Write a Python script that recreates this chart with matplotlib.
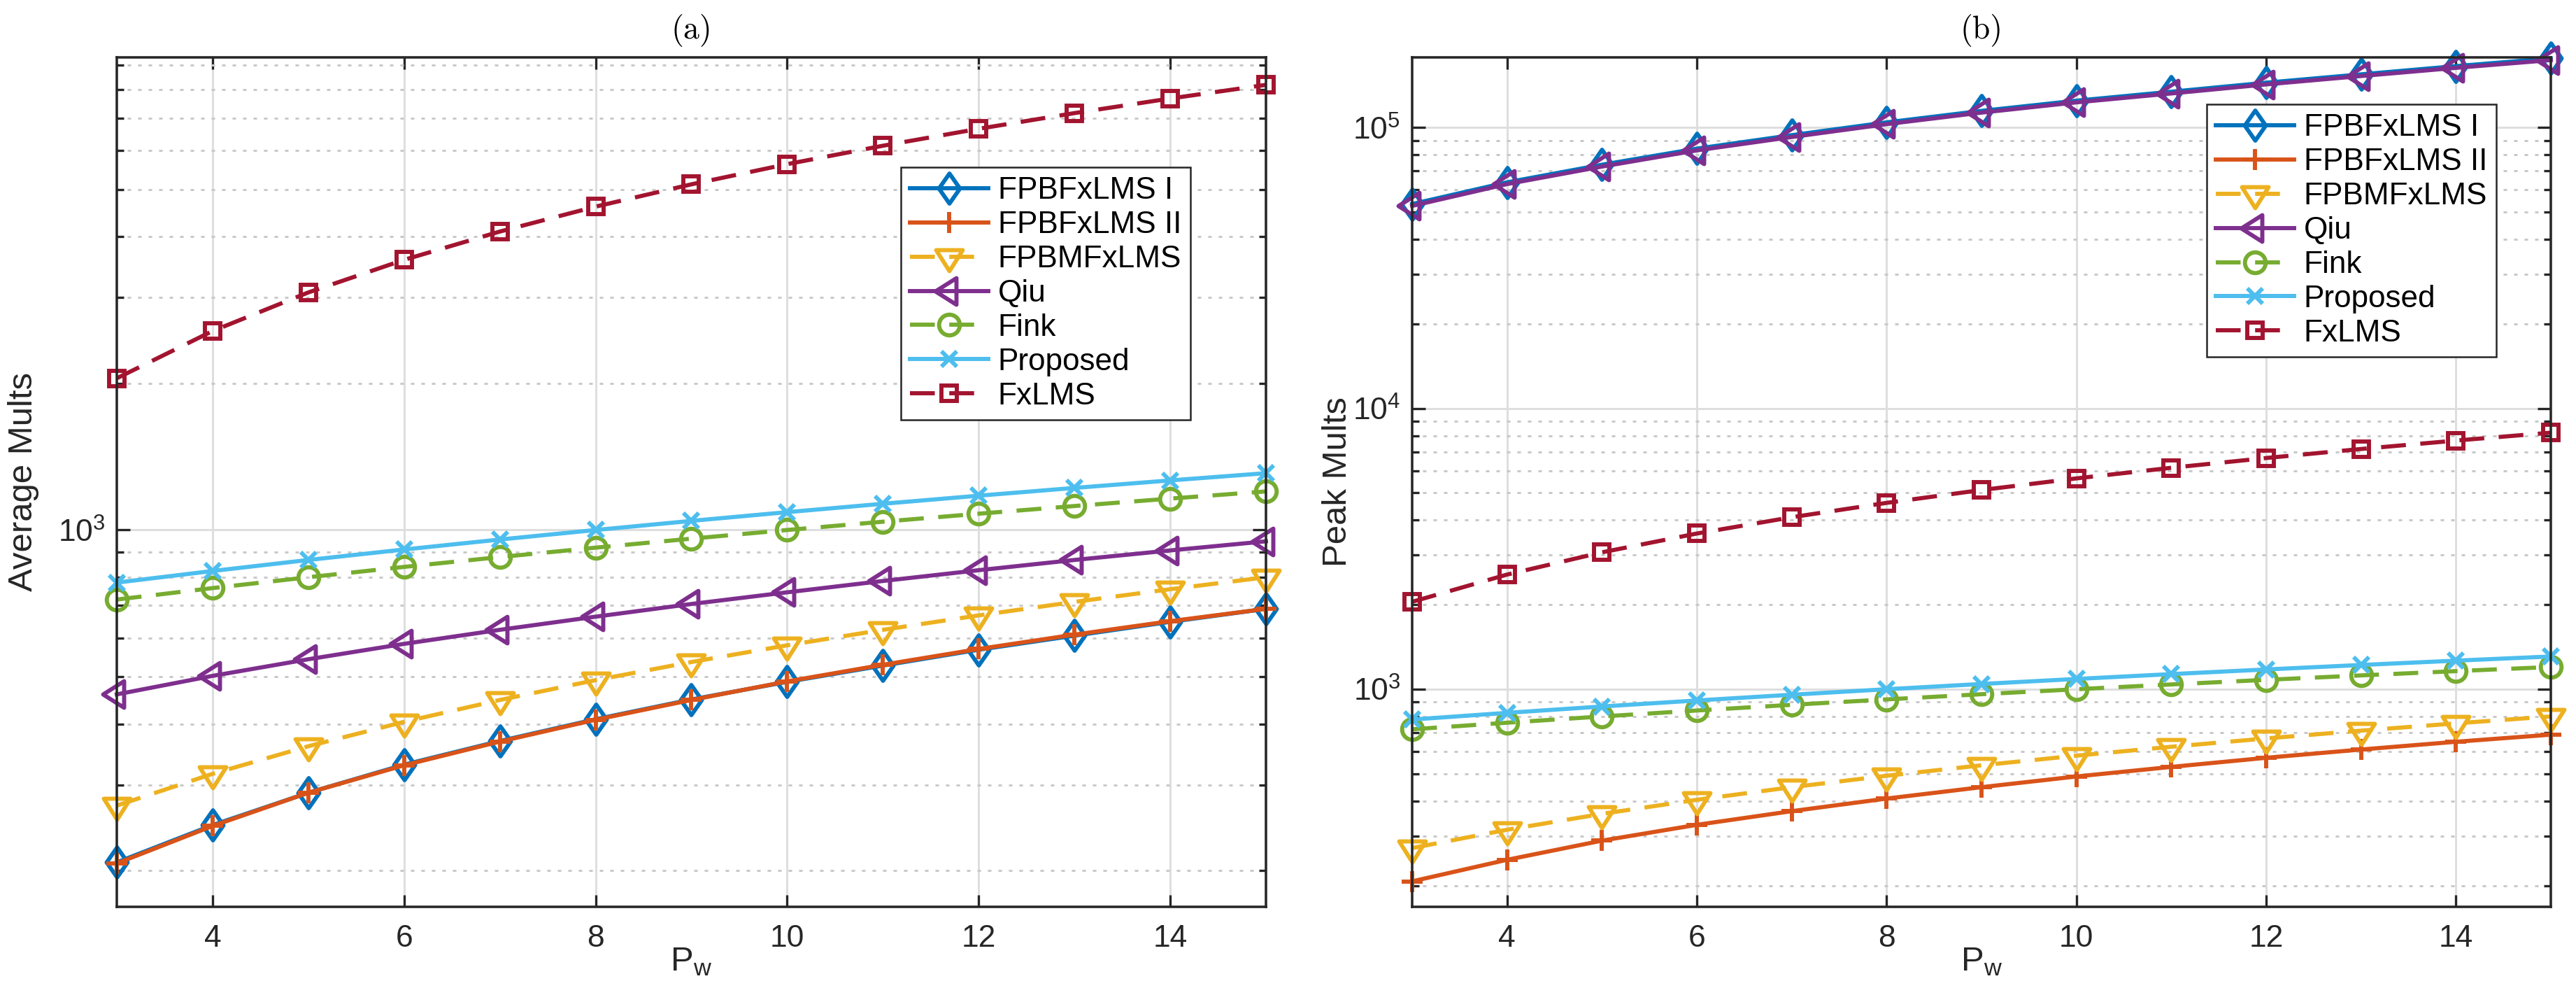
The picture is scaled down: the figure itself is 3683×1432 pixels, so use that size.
import matplotlib
matplotlib.use('Agg')
import matplotlib.pyplot as plt
import numpy as np
from matplotlib.path import Path
from matplotlib.ticker import LogLocator, NullFormatter, FuncFormatter, FixedLocator

# data
pw = [3, 4, 5, 6, 7, 8, 9, 10, 11, 12, 13, 14, 15]

fpbfxlms_1_avg = [208, 248, 289, 330, 369, 409, 449, 488, 527, 568, 607, 648, 689]
fpbfxlms_2 = [207, 247, 289, 329, 368, 408, 448, 489, 529, 570, 610, 650, 689]
fpbmfxlms = [272, 316, 360, 404, 448, 492, 536, 580, 624, 668, 712, 756, 800]
qiu_avg = [460, 502, 543, 584, 624, 664, 705, 745, 786, 827, 868, 908, 948]
fink = [720, 760, 800, 840, 880, 920, 960, 1000, 1040, 1080, 1120, 1160, 1200]
proposed = [780, 824, 868, 912, 956, 1000, 1044, 1088, 1132, 1176, 1220, 1264, 1308]
fxlms = [2048, 2560, 3072, 3584, 4096, 4608, 5120, 5632, 6144, 6656, 7168, 7680, 8192]

fpbfxlms_1_peak = [53400, 63800, 73700, 84100, 93900, 104300, 114600, 124600,
                   134100, 144400, 154600, 165400, 176200]
qiu_peak = [52600, 62900, 72600, 82900, 92500, 102800, 113000, 122900,
            132200, 142400, 152500, 163100, 173800]

labels = ['FPBFxLMS I', 'FPBFxLMS II', 'FPBMFxLMS', 'Qiu', 'Fink', 'Proposed', 'FxLMS']
colors = ['#0072BD', '#D95319', '#EDB120', '#7E2F8E', '#77AC30', '#4DBEEE', '#A2142F']

plt.rcParams.update({
    'font.family': ['Liberation Sans', 'DejaVu Sans'],
    'mathtext.fontset': 'custom',
    'mathtext.rm': 'Liberation Sans',
    'mathtext.it': 'Liberation Sans:italic',
    'mathtext.bf': 'Liberation Sans:bold',
    'mathtext.default': 'regular',
})

# MATLAB-like markers
diamond = Path([(0, 1), (0.7, 0), (0, -1), (-0.7, 0), (0, 1)],
               [Path.MOVETO, Path.LINETO, Path.LINETO, Path.LINETO, Path.CLOSEPOLY])
tri_down = Path([(-19, 10), (19, 10), (0, -20), (-19, 10)],
                [Path.MOVETO, Path.LINETO, Path.LINETO, Path.CLOSEPOLY])
tri_left = Path([(-20, 0), (10, 19), (10, -19), (-20, 0)],
                [Path.MOVETO, Path.LINETO, Path.LINETO, Path.CLOSEPOLY])

LW = 1.42
DASH = (0, (6.0, 3.5))
styles = [
    dict(marker=diamond, ms=10.3, ls='-'),
    dict(marker='+', ms=7.4, ls='-'),
    dict(marker=tri_down, ms=9.6, ls=DASH),
    dict(marker=tri_left, ms=9.6, ls='-'),
    dict(marker='o', ms=7.1, ls=DASH),
    dict(marker='x', ms=5.4, ls='-'),
    dict(marker='s', ms=5.4, ls=DASH),
]
DARK = '#262626'


def draw_panel(ax, series, ylim, ylabel, title, ylab_x, leg_anchor):
    for vals, lab, col, st in zip(series, labels, colors, styles):
        ax.plot(pw, vals, color=col, lw=LW, ls=st['ls'], marker=st['marker'],
                ms=st['ms'], mfc='none', mec=col, mew=LW, label=lab, clip_on=False)

    ax.set_yscale('log')
    ax.set_xlim(3, 15)
    ax.set_ylim(*ylim)
    ax.xaxis.set_major_locator(FixedLocator([4, 6, 8, 10, 12, 14]))
    ax.yaxis.set_major_locator(LogLocator(base=10, numticks=10))
    ax.yaxis.set_minor_locator(LogLocator(base=10, subs=np.arange(2, 10), numticks=20))
    ax.yaxis.set_major_formatter(FuncFormatter(lambda v, p: '$10^{%d}$' % round(np.log10(v))))
    ax.yaxis.set_minor_formatter(NullFormatter())

    ax.set_axisbelow(True)
    ax.grid(which='major', color='#DEDEDE', lw=0.72, ls='-')
    ax.grid(which='minor', axis='y', color='#C9C9C9', lw=0.72, ls=(0, (1.67, 3.33)))

    for s in ax.spines.values():
        s.set_linewidth(0.85)
        s.set_color(DARK)
    ax.tick_params(which='both', direction='in', top=True, right=True,
                   color=DARK, labelcolor=DARK, width=0.8, labelsize=10.7)
    ax.tick_params(axis='x', which='major', length=4.0, pad=6)
    ax.tick_params(axis='y', which='major', length=4.5, pad=4)
    ax.tick_params(axis='y', which='minor', length=2.4)

    ax.set_xlabel('P$_{w}$', fontsize=11.8, color=DARK)
    ax.xaxis.set_label_coords(0.5, -0.046)
    ax.set_ylabel(ylabel, fontsize=11.8, color=DARK)
    ax.yaxis.set_label_coords(ylab_x, 0.5)
    ax.set_title(title, fontfamily='cmr10', fontsize=11, pad=6.5)

    leg = ax.legend(loc='upper left', bbox_to_anchor=leg_anchor, borderaxespad=0,
                    fontsize=10.6, handlelength=2.53, handletextpad=0.31,
                    labelspacing=0.18, borderpad=0.3, fancybox=False,
                    framealpha=1, edgecolor=DARK)
    leg.get_frame().set_linewidth(0.6)


fig = plt.figure(figsize=(3683 / 300, 1432 / 300), dpi=300)
ax1 = fig.add_axes([0.04534, 0.0950, 0.4461, 0.8478])
ax2 = fig.add_axes([0.5482, 0.0950, 0.4420, 0.8478])

draw_panel(ax1, [fpbfxlms_1_avg, fpbfxlms_2, fpbmfxlms, qiu_avg, fink, proposed, fxlms],
           (168.6, 9330), 'Average Mults', '(a)', -0.0676, (0.6823, 0.8707))
draw_panel(ax2, [fpbfxlms_1_peak, fpbfxlms_2, fpbmfxlms, qiu_peak, fink, proposed, fxlms],
           (168, 177800), 'Peak Mults', '(b)', -0.0516, (0.6978, 0.9448))

fig.savefig('out.png', dpi=300)
